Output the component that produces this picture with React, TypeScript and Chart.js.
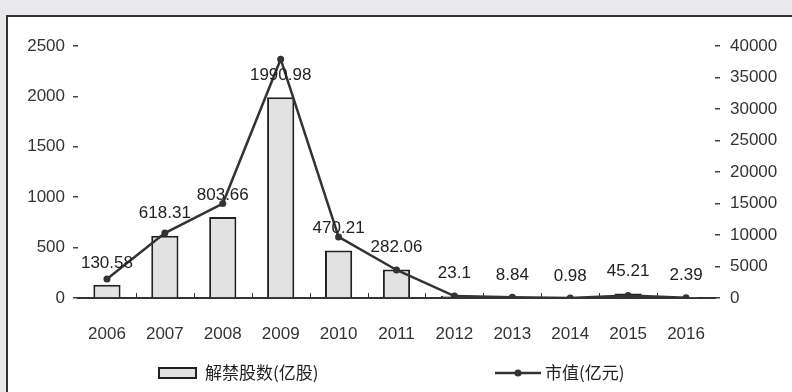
import React, { useEffect, useRef } from "react";
import { Chart, registerables } from "chart.js";

Chart.register(...registerables);

const years = ["2006", "2007", "2008", "2009", "2010", "2011", "2012", "2013", "2014", "2015", "2016"];
const sharesUnlocked = [130.58, 618.31, 803.66, 1990.98, 470.21, 282.06, 23.1, 8.84, 0.98, 45.21, 2.39];
const marketValue = [3000, 10300, 15000, 37900, 9700, 4450, 300, 100, 10, 400, 40];
const shareLabels = ["130.58", "618.31", "803.66", "1990.98", "470.21", "282.06", "23.1", "8.84", "0.98", "45.21", "2.39"];
const leftTicks = [0, 500, 1000, 1500, 2000, 2500];
const rightTicks = [0, 5000, 10000, 15000, 20000, 25000, 30000, 35000, 40000];
const legendBar = "解禁股数(亿股)";
const legendLine = "市值(亿元)";

const FONT = "'Liberation Sans', Arial, sans-serif";
const CJK = "'Noto Sans CJK SC', sans-serif";

export default function App() {
  const ref = useRef<HTMLCanvasElement | null>(null);

  useEffect(() => {
    document.body.style.margin = "0";
    const canvas = ref.current!;
    const extras = {
      id: "extras",
      afterDatasetsDraw(chart: any) {
        const ctx = chart.ctx;
        const x = chart.scales.x;
        const area = chart.chartArea;
        const barMeta = chart.getDatasetMeta(0);
        ctx.save();
        // boundary ticks
        ctx.strokeStyle = "#333";
        ctx.lineWidth = 1;
        for (let i = 1; i < years.length; i++) {
          const bx = Math.round((x.getPixelForValue(i - 1) + x.getPixelForValue(i)) / 2) + 0.5;
          ctx.beginPath();
          ctx.moveTo(bx, area.bottom);
          ctx.lineTo(bx, area.bottom - 5);
          ctx.stroke();
        }
        // data labels
        ctx.fillStyle = "#222";
        ctx.font = "17px " + FONT;
        ctx.textAlign = "center";
        ctx.textBaseline = "middle";
        barMeta.data.forEach((el: any, i: number) => {
          ctx.fillText(shareLabels[i], el.x, el.y - 22);
        });
        // legend
        const ly = 373;
        ctx.fillStyle = "#e2e2e2";
        ctx.fillRect(159, ly - 5, 37, 10);
        ctx.strokeStyle = "#222";
        ctx.lineWidth = 2;
        ctx.strokeRect(159, ly - 5, 37, 10);
        ctx.fillStyle = "#222";
        ctx.font = "17px " + CJK;
        ctx.textAlign = "left";
        ctx.fillText(legendBar, 205, ly);
        ctx.strokeStyle = "#333";
        ctx.lineWidth = 2.5;
        ctx.beginPath();
        ctx.moveTo(495, ly);
        ctx.lineTo(541, ly);
        ctx.stroke();
        ctx.fillStyle = "#333";
        ctx.beginPath();
        ctx.arc(518, ly, 3.5, 0, Math.PI * 2);
        ctx.fill();
        ctx.fillStyle = "#222";
        ctx.fillText(legendLine, 545, ly);
        ctx.restore();
      },
    };

    const chart = new Chart(canvas, {
      type: "bar",
      data: {
        labels: years,
        datasets: [
          {
            type: "bar",
            label: legendBar,
            data: sharesUnlocked,
            yAxisID: "y",
            backgroundColor: "#e2e2e2",
            borderColor: "#222",
            borderWidth: 2,
            barPercentage: 0.47,
            categoryPercentage: 1,
            order: 2,
          },
          {
            type: "line",
            label: legendLine,
            data: marketValue,
            yAxisID: "y1",
            borderColor: "#333",
            backgroundColor: "#333",
            borderWidth: 2.5,
            pointRadius: 3.5,
            pointBackgroundColor: "#333",
            pointBorderWidth: 0,
            tension: 0,
            order: 1,
          } as any,
        ],
      },
      options: {
        animation: false,
        responsive: false,
        maintainAspectRatio: false,
        layout: { padding: { top: 46, left: 0, right: 0, bottom: 0 } },
        plugins: { legend: { display: false }, tooltip: { enabled: false } },
        scales: {
          x: {
            grid: { display: false },
            border: { display: true, color: "#333", width: 2 },
            ticks: { color: "#333", font: { size: 17, family: FONT }, padding: 18, maxRotation: 0 },
            afterFit(s: any) { s.height = 94; },
          },
          y: {
            position: "left",
            min: 0,
            max: 2500,
            afterBuildTicks(s: any) { s.ticks = leftTicks.map((v) => ({ value: v })); },
            grid: { drawOnChartArea: false, tickLength: 5, color: "#444", lineWidth: 1.5 },
            border: { display: false },
            ticks: { color: "#333", font: { size: 17, family: FONT }, padding: 8, callback: (v: any) => String(v) },
            afterFit(s: any) { s.width = 78; },
          },
          y1: {
            position: "right",
            min: 0,
            max: 40000,
            afterBuildTicks(s: any) { s.ticks = rightTicks.map((v) => ({ value: v })); },
            grid: { drawOnChartArea: false, tickLength: 5, color: "#444", lineWidth: 1.5 },
            border: { display: false },
            ticks: { color: "#333", font: { size: 17, family: FONT }, padding: 10, callback: (v: any) => String(v) },
            afterFit(s: any) { s.width = 77; },
          },
        },
      },
      plugins: [extras],
    });
    return () => chart.destroy();
  }, []);

  return (
    <div style={{ position: "relative", width: 792, height: 392, background: "#e9e9eb", overflow: "hidden" }}>
      <div
        style={{
          position: "absolute",
          left: 6,
          top: 15,
          width: 800,
          height: 400,
          background: "#ffffff",
          borderLeft: "2px solid #333",
          borderTop: "2px solid #333",
        }}
      />
      <canvas ref={ref} width={792} height={392} style={{ position: "absolute", left: 0, top: 0, width: 792, height: 392 }} />
    </div>
  );
}
